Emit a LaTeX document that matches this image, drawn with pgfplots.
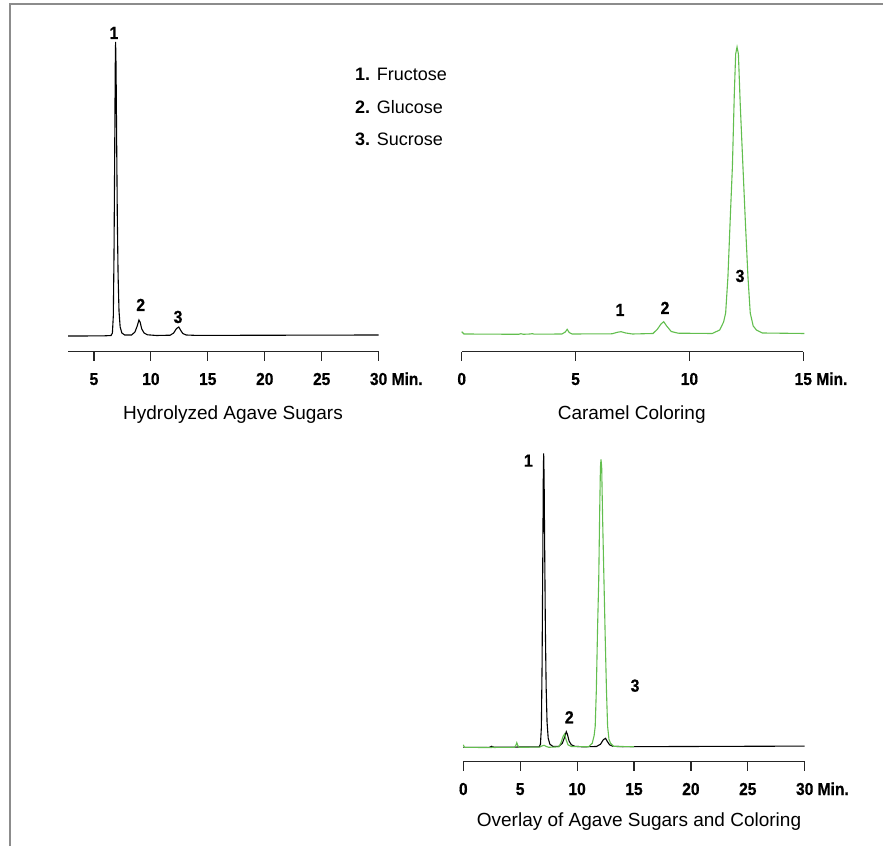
\documentclass[border=0pt]{standalone}
\usepackage{fontspec}
\setmainfont{Liberation Sans}
\newfontfamily\numfont{Liberation Sans Bold}[FakeStretch=0.9, FakeBold=0.6]
\usepackage{pgfplots}
\pgfplotsset{compat=1.18}
\definecolor{trgreen}{RGB}{98,190,78}
\definecolor{framegray}{RGB}{140,140,140}
\pgfplotsset{chrom/.style={scale only axis, axis x line*=bottom, hide y axis, clip=false,
  xtick align=outside, major tick length=9pt,
  every tick/.style={black!85, line width=1.2pt},
  axis line style={black!85, line width=1.2pt},
  xticklabel style={font=\numfont\fontsize{17.3}{18}\selectfont, anchor=base, yshift=-24.3pt}}}
\newcommand{\pkfont}{\numfont\fontsize{17.5}{18}\selectfont}
\newcommand{\ttlfont}{\fontsize{19}{21}\selectfont}
\newcommand{\lgfont}{\fontsize{18}{20}\selectfont}

\pgfplotstableread{
t h
2.72 0
4.0 0
6.0 0.2
6.5 0.5
6.62 3
6.7 20
6.76 80
6.82 180
6.87 270
6.9 294
6.94 270
6.99 200
7.05 120
7.12 60
7.2 25
7.3 9
7.45 3
7.7 1
8.3 1
8.6 4
8.8 10
8.95 16
9.05 14
9.2 7
9.4 3
9.7 1.2
10.5 0.5
11.7 0.8
12.0 3
12.25 7.5
12.45 9
12.6 6
12.8 2.5
13.1 1
14 0.6
30 1
}\agave

\pgfplotstableread{
t h
0 2.3
0.1 0
2.5 -0.3
2.6 0.3
2.7 -0.3
3.0 0
3.1 0.3
3.2 -0.2
4.4 0
4.55 2
4.63 4.7
4.72 1.5
4.85 0
6.6 0.2
6.85 1.8
7.0 2.3
7.2 1
7.5 0
8.4 0.5
8.6 5
8.75 10
8.87 12.3
9.0 8
9.2 2.5
9.5 0.8
11.0 0.5
11.33 4
11.5 12
11.59 21
11.69 57
11.8 120
11.886 167
11.97 240
12.03 280
12.09 287
12.15 280
12.23 230
12.35 167
12.46 110
12.57 57
12.67 21
12.8 8
12.94 4
13.2 1
15.05 0.5
}\caramel

\pgfplotstableread{
t h
0 0
2.3 0
2.5 1
2.7 0
6.66 0.5
6.78 3
6.86 20
6.92 80
6.98 180
7.03 270
7.06 294
7.1 270
7.15 200
7.21 120
7.28 60
7.36 25
7.46 9
7.61 3
7.86 1
8.4 1
8.7 4
8.9 10
9.05 15.6
9.15 13
9.3 6
9.5 2.5
9.8 1
10.5 0.5
11.7 0.8
12.05 3
12.3 7.5
12.5 9
12.65 6
12.85 2.5
13.15 1
14 0.6
30 1.2
}\agaveov

\pgfplotstableread{
t h
0 2.5
0.1 0
2.5 -0.3
2.6 0.3
2.7 -0.3
3.0 0
4.5 0
4.62 2
4.7 4.6
4.8 1.5
4.9 0
6.7 0.2
6.95 1.5
7.1 2
7.3 0.8
7.5 0
8.4 0.5
8.6 5
8.77 11
8.9 13.3
9.02 8
9.2 2.5
9.5 0.8
11.0 0.5
11.33 4
11.5 12
11.59 21
11.69 57
11.8 120
11.9 167
11.99 240
12.05 280
12.1 288
12.16 280
12.24 230
12.36 167
12.47 110
12.58 57
12.68 21
12.8 8
12.94 4
13.2 1
15.0 0.5
}\caramelov

\begin{document}
\begin{tikzpicture}[x=1pt,y=1pt]
\path[use as bounding box] (0,0) rectangle (883,846);
\draw[framegray, line width=2pt] (10,0) -- (10,842) -- (883,842);

\begin{axis}[chrom, at={(68pt,494.3pt)}, anchor=south west,
  width=310.6pt, height=309.7pt, xmin=2.72, xmax=30, ymin=-15.7, ymax=294,
  xtick={5,10,15,20,25,30}, xticklabels={5,10,15,20,25,{30\rlap{ Min.}}}]
\addplot[black, line width=1.1pt] table[x=t,y=h] {\agave};
\end{axis}

\begin{axis}[chrom, at={(461.7pt,494.3pt)}, anchor=south west,
  width=341.6pt, height=305pt, xmin=0, xmax=15, ymin=-17.7, ymax=287.3,
  xtick={0,5,10,15}, xticklabels={0,5,10,{15\rlap{ Min.}}}]
\addplot[trgreen, line width=1.1pt] table[x=t,y=h] {\caramel};
\end{axis}

\begin{axis}[chrom, at={(463.3pt,84.3pt)}, anchor=south west,
  width=341.4pt, height=308.4pt, xmin=0, xmax=30, ymin=-14.4, ymax=294,
  xtick={0,5,10,15,20,25,30}, xticklabels={0,5,10,15,20,25,{30\rlap{ Min.}}}]
\addplot[black, line width=1.1pt] table[x=t,y=h] {\agaveov};
\addplot[trgreen, line width=1.1pt] table[x=t,y=h] {\caramelov};
\end{axis}

% peak labels
\node[font=\pkfont, anchor=base] at (114,807) {1};
\node[font=\pkfont, anchor=base] at (140.7,535) {2};
\node[font=\pkfont, anchor=base] at (178,523) {3};
\node[font=\pkfont, anchor=base] at (620,530) {1};
\node[font=\pkfont, anchor=base] at (665,532) {2};
\node[font=\pkfont, anchor=base] at (740,564) {3};
\node[font=\pkfont, anchor=base] at (528.3,379.3) {1};
\node[font=\pkfont, anchor=base] at (569.3,122.7) {2};
\node[font=\pkfont, anchor=base] at (635,154.3) {3};

% legend
\node[font=\lgfont, anchor=base west, inner sep=0pt] at (355,765.6) {\textbf{1.} Fructose};
\node[font=\lgfont, anchor=base west, inner sep=0pt] at (355,732.6) {\textbf{2.} Glucose};
\node[font=\lgfont, anchor=base west, inner sep=0pt] at (355,700.6) {\textbf{3.} Sucrose};

% titles
\node[font=\ttlfont, anchor=base] at (233,426) {Hydrolyzed Agave Sugars};
\node[font=\ttlfont, anchor=base] at (631.7,426) {Caramel Coloring};
\node[font=\ttlfont, anchor=base] at (639,20) {Overlay of Agave Sugars and Coloring};
\end{tikzpicture}
\end{document}
